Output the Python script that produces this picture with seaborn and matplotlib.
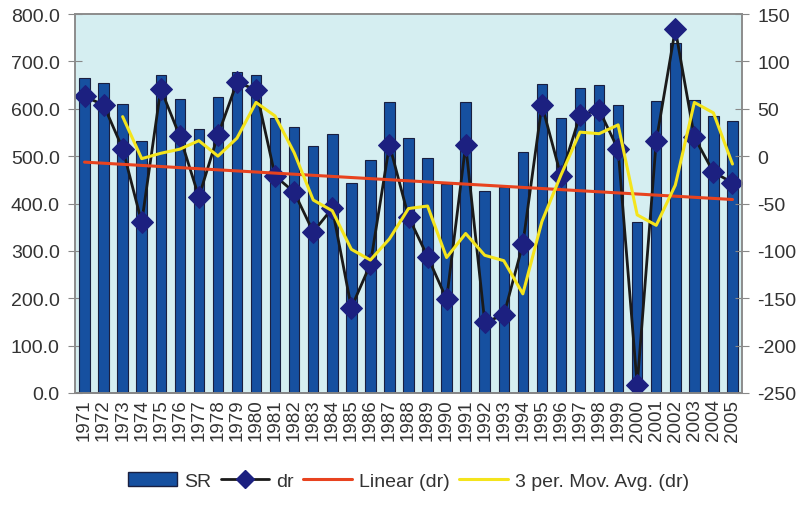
import numpy as np
import pandas as pd
import matplotlib
matplotlib.use('Agg')
import matplotlib.pyplot as plt
import seaborn as sns
from matplotlib.lines import Line2D
from matplotlib.patches import Patch
from matplotlib.ticker import FixedLocator, FuncFormatter

years = [str(y) for y in range(1971, 2006)]
sr = [664, 654, 609, 531, 671, 620, 557, 624, 677, 671,
      580, 561, 521, 546, 444, 491, 614, 538, 497, 442,
      614, 427, 434, 508, 652, 580, 643, 650, 607, 360,
      616, 739, 618, 584, 574]
dr = [63, 54, 8, -70, 71, 21, -43, 22, 78, 70,
      -21, -38, -80, -55, -160, -114, 12, -64, -106, -151,
      12, -175, -168, -93, 54, -21, 43, 49, 7, -242,
      16, 134, 20, -17, -28]
left_ticks = [0, 100, 200, 300, 400, 500, 600, 700, 800]
right_ticks = [-250, -200, -150, -100, -50, 0, 50, 100, 150]

sns.set_theme(style='white')
plt.rcParams['font.family'] = ['Liberation Sans', 'DejaVu Sans']
plt.rcParams['axes.unicode_minus'] = False

df = pd.DataFrame({'year': years, 'SR': sr, 'dr': dr})
df['pos'] = np.arange(len(years))
slope, intercept = np.polyfit(df['pos'], df['dr'], 1)
df['lin'] = intercept + slope * df['pos']
df['ma'] = df['dr'].rolling(3).mean()

fig = plt.figure(figsize=(8.01, 5.06), dpi=100)
ax = fig.add_axes([75 / 801, 112 / 506, 667 / 801, 379 / 506])
ax.set_facecolor('#d5eef1')

bar_c = '#1650a0'
sns.barplot(data=df, x='year', y='SR', color=bar_c, saturation=1, width=0.55,
            edgecolor='#1a1f40', linewidth=0.8, ax=ax)
ax.set_xlim(-0.5, len(years) - 0.5)
ax.set_ylim(0, 800)
ax.yaxis.set_major_locator(FixedLocator(left_ticks))
ax.yaxis.set_major_formatter(FuncFormatter(lambda v, p: f'{v:.1f}'))
ax.set_xlabel('')
ax.set_ylabel('')
ax.set_xticks(df['pos'])
ax.set_xticklabels(years, rotation=90)
ax.set_xticks(np.arange(-0.5, len(years), 1), minor=True)
ax.tick_params(axis='x', which='major', length=0, pad=4, labelsize=13.5, labelcolor='#333333')
ax.tick_params(axis='x', which='minor', length=6, direction='inout', color='#888888', width=0.8)
ax.tick_params(axis='y', length=10, direction='inout', color='#888888', width=0.8,
               labelsize=14, labelcolor='#333333', pad=6, left=True)

ax2 = ax.twinx()
sns.lineplot(data=df, x='pos', y='dr', color='#1a1a1a', lw=2, marker='D',
             markersize=11, markerfacecolor='#1c2080', markeredgecolor='#1c2080', ax=ax2)
sns.lineplot(data=df, x='pos', y='lin', color='#e8431f', lw=2.2, ax=ax2)
sns.lineplot(data=df.dropna(), x='pos', y='ma', color='#f4e41c', lw=2.2, ax=ax2)
ax2.set_ylim(-250, 150)
ax2.set_xlim(-0.5, len(years) - 0.5)
ax2.yaxis.set_major_locator(FixedLocator(right_ticks))
ax2.set_ylabel('')
ax2.set_xlabel('')
ax2.tick_params(axis='y', length=10, direction='inout', color='#888888', width=0.8,
                labelsize=14, labelcolor='#333333', pad=6, right=True)

for a in (ax, ax2):
    for s in a.spines.values():
        s.set_color('#8c8c8c')
        s.set_linewidth(1.2)
ax.spines['bottom'].set_color('#555555')

handles = [Patch(facecolor=bar_c, edgecolor='#1a1f40'),
           Line2D([], [], color='#1a1a1a', lw=2, marker='D', markersize=9,
                  markerfacecolor='#1c2080', markeredgecolor='#1c2080'),
           Line2D([], [], color='#e8431f', lw=2.2),
           Line2D([], [], color='#f4e41c', lw=2.2)]
labels = ['SR', 'dr', 'Linear (dr)', '3 per. Mov. Avg. (dr)']
fig.legend(handles, labels, loc='lower center', bbox_to_anchor=(0.51, -0.005), ncol=4,
           frameon=False, fontsize=14, handlelength=2.5, handletextpad=0.35,
           columnspacing=0.5, labelcolor='#333333')

fig.savefig('out.png', dpi=100)
